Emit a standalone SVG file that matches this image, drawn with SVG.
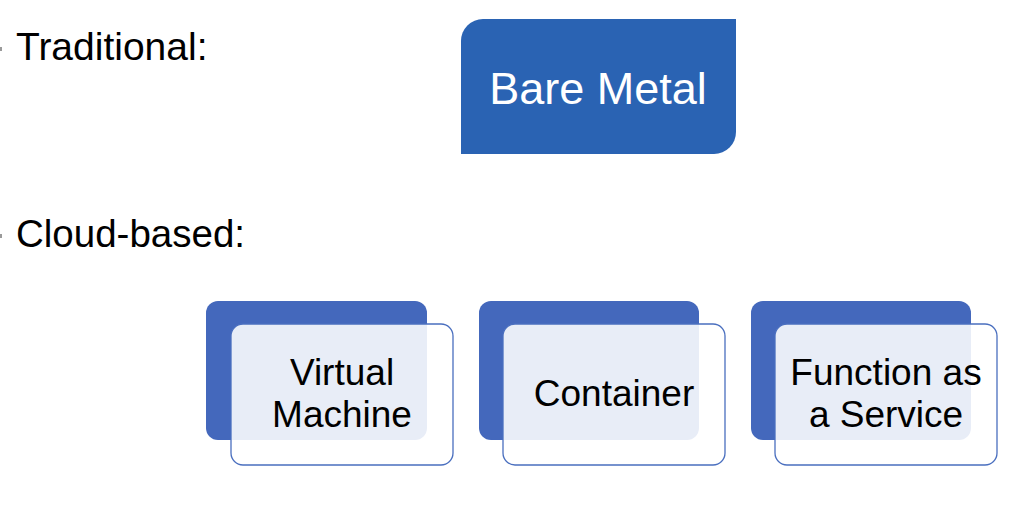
<svg xmlns="http://www.w3.org/2000/svg" width="1028" height="508" viewBox="0 0 1028 508">
<style>
.lbl{font-family:"Liberation Sans","Noto Sans",Arial,sans-serif;fill:#000}
.back{fill:#4468BC}
.front{fill:#FFFFFF;fill-opacity:0.88;stroke:#4A6FBF;stroke-width:1.3}
.ntxt{font-family:"Liberation Sans","Noto Sans",Arial,sans-serif;font-size:37px;fill:#000;text-anchor:middle}
</style>
<rect width="1028" height="508" fill="#FFFFFF"/>
<g id="bullets">
<rect x="0" y="47" width="2" height="4" fill="#9a9a9a"/>
<rect x="0" y="234" width="2" height="4" fill="#9a9a9a"/>
</g>
<g id="label-traditional">
<text class="lbl" x="16" y="60" font-size="39">Traditional:</text>
</g>
<g id="label-cloud">
<text class="lbl" x="16" y="247" font-size="38.5">Cloud-based:</text>
</g>
<g id="bare-metal">
<path d="M483,19 H736 V132 A22,22 0 0 1 714,154 H461 V41 A22,22 0 0 1 483,19 Z" fill="#2A63B3"/>
<text x="598" y="104" font-family="Liberation Sans,Noto Sans,Arial,sans-serif" font-size="45" fill="#FFFFFF" text-anchor="middle">Bare Metal</text>
</g>
<g id="virtual-machine">
<rect class="back" x="206" y="301" width="221" height="139" rx="12"/>
<rect class="front" x="231" y="324" width="222" height="141" rx="12"/>
<text class="ntxt" x="342" y="385">Virtual</text>
<text class="ntxt" x="342" y="427">Machine</text>
</g>
<g id="container">
<rect class="back" x="479" y="301" width="220" height="139" rx="12"/>
<rect class="front" x="503" y="324" width="222" height="141" rx="12"/>
<text class="ntxt" x="614" y="406">Container</text>
</g>
<g id="faas">
<rect class="back" x="751" y="301" width="220" height="139" rx="12"/>
<rect class="front" x="775" y="324" width="222" height="141" rx="12"/>
<text class="ntxt" x="886" y="385">Function as</text>
<text class="ntxt" x="886" y="427">a Service</text>
</g>
<g id="connectors"></g>
</svg>
